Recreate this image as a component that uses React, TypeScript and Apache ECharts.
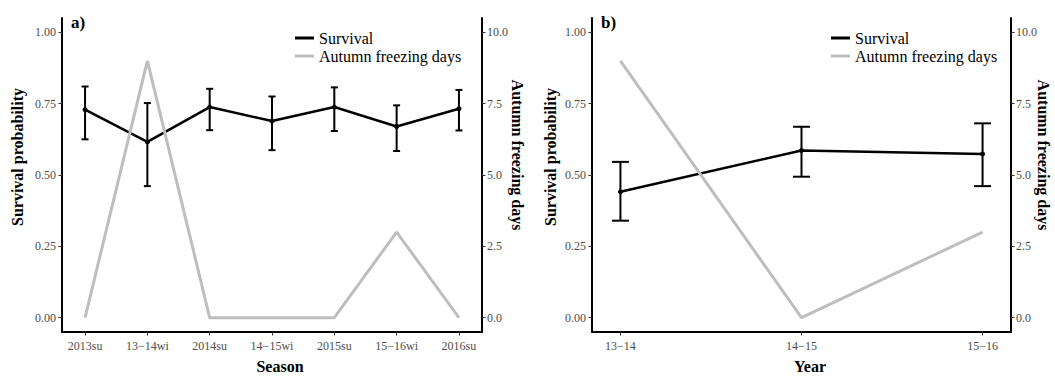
import React, { useEffect, useRef } from "react";
import * as echarts from "echarts";

const seasons = ["2013su", "13−14wi", "2014su", "14−15wi", "2015su", "15−16wi", "2016su"];
const survivalSeason = [0.729, 0.616, 0.738, 0.689, 0.738, 0.67, 0.732];
const seasonLow = [0.625, 0.461, 0.657, 0.587, 0.654, 0.584, 0.656];
const seasonHigh = [0.81, 0.752, 0.802, 0.775, 0.807, 0.744, 0.798];
const freezeSeason = [0, 9, 0, 0, 0, 3, 0];

const years = ["13−14", "14−15", "15−16"];
const survivalYear = [0.441, 0.586, 0.574];
const yearLow = [0.34, 0.494, 0.461];
const yearHigh = [0.546, 0.669, 0.681];
const freezeYear = [9, 0, 3];

const leftTicks = [0, 0.25, 0.5, 0.75, 1];
const rightTicks = [0, 2.5, 5, 7.5, 10];

const FONT = "Liberation Serif";

export default function App() {
  const ref = useRef<HTMLDivElement>(null);
  useEffect(() => {
    if (!ref.current) return;
    const chart = echarts.init(ref.current, undefined, { renderer: "svg" });

    const axisLine = { show: true, onZero: false, lineStyle: { color: "#000", width: 2 } };
    const axisTick = (vals: number[]) => ({
      show: true,
      length: 3.5,
      lineStyle: { color: "#333", width: 1 },
      customValues: vals,
    });
    const labelStyle = { color: "#4d4d4d", fontSize: 12, fontFamily: FONT };

    const xAxisFor = (idx: number, cats: string[], pad: number) => ({
      type: "value",
      gridIndex: idx,
      min: -pad,
      max: cats.length - 1 + pad,
      splitLine: { show: false },
      axisLine,
      axisTick: axisTick(cats.map((_, i) => i)),
      axisLabel: {
        ...labelStyle,
        margin: 8,
        customValues: cats.map((_, i) => i),
        formatter: (v: number) => cats[Math.round(v)] ?? "",
      },
    });

    const yLeft = (idx: number) => ({
      type: "value",
      gridIndex: idx,
      position: "left",
      min: -0.05,
      max: 1.05,
      splitLine: { show: false },
      axisLine,
      axisTick: axisTick(leftTicks),
      axisLabel: {
        ...labelStyle,
        margin: 6,
        customValues: leftTicks,
        formatter: (v: number) => v.toFixed(2),
      },
    });
    const yRight = (idx: number) => ({
      type: "value",
      gridIndex: idx,
      position: "right",
      min: -0.5,
      max: 10.5,
      splitLine: { show: false },
      axisLine,
      axisTick: axisTick(rightTicks),
      axisLabel: {
        ...labelStyle,
        margin: 5,
        customValues: rightTicks,
        formatter: (v: number) => v.toFixed(1),
      },
    });

    const errSeries = (xi: number, yi: number, low: number[], high: number[], half: number) => ({
      type: "custom",
      xAxisIndex: xi,
      yAxisIndex: yi,
      z: 3,
      data: low.map((l, i) => [i, l, high[i]]),
      encode: { x: 0, y: [1, 2] },
      renderItem: (params: any, api: any) => {
        const x = api.value(0);
        const pLo = api.coord([x, api.value(1)]);
        const pHi = api.coord([x, api.value(2)]);
        const st = { stroke: "#000", lineWidth: 2 };
        return {
          type: "group",
          children: [
            { type: "line", shape: { x1: pLo[0], y1: pLo[1], x2: pHi[0], y2: pHi[1] }, style: st },
            { type: "line", shape: { x1: pHi[0] - half, y1: pHi[1], x2: pHi[0] + half, y2: pHi[1] }, style: st },
            { type: "line", shape: { x1: pLo[0] - half, y1: pLo[1], x2: pLo[0] + half, y2: pLo[1] }, style: st },
          ],
        };
      },
    });

    const survLine = (xi: number, yi: number, vals: number[]) => ({
      name: "Survival",
      type: "line",
      xAxisIndex: xi,
      yAxisIndex: yi,
      z: 3,
      data: vals.map((v, i) => [i, v]),
      color: "#000",
      lineStyle: { color: "#000", width: 2.5 },
      symbol: "circle",
      symbolSize: 5,
      itemStyle: { color: "#000" },
    });
    const freezeLine = (xi: number, yi: number, vals: number[]) => ({
      name: "Autumn freezing days",
      type: "line",
      xAxisIndex: xi,
      yAxisIndex: yi,
      z: 4,
      data: vals.map((v, i) => [i, v]),
      color: "#bebebe",
      lineStyle: { color: "#bebebe", width: 3 },
      symbol: "none",
    });

    const legendFor = (left: number) => ({
      orient: "vertical",
      left,
      top: 24,
      icon: "rect",
      itemWidth: 19,
      itemHeight: 3,
      itemGap: 0,
      itemTextGap: 5,
      selectedMode: false,
      data: ["Survival", "Autumn freezing days"],
      textStyle: { color: "#000", fontSize: 16, fontFamily: FONT, lineHeight: 18 },
    });

    const titleText = (text: string, x: number, y: number, rot: number, size = 16) => ({
      type: "text",
      x,
      y,
      rotation: rot,
      style: {
        text,
        fill: "#000",
        font: `bold ${size}px "${FONT}"`,
        align: "center",
        verticalAlign: "middle",
      },
    });

    chart.setOption({
      animation: false,
      grid: [
        { left: 62, right: 573, top: 18, bottom: 44 },
        { left: 592, right: 44, top: 18, bottom: 44 },
      ],
      legend: [legendFor(290), legendFor(826)],
      xAxis: [xAxisFor(0, seasons, 0.37), xAxisFor(1, years, 0.157)],
      yAxis: [yLeft(0), yRight(0), yLeft(1), yRight(1)],
      series: [
        survLine(0, 0, survivalSeason),
        errSeries(0, 0, seasonLow, seasonHigh, 3.5),
        freezeLine(0, 1, freezeSeason),
        survLine(1, 2, survivalYear),
        errSeries(1, 2, yearLow, yearHigh, 8.5),
        freezeLine(1, 3, freezeYear),
      ],
      graphic: [
        { type: "text", x: 71, y: 22, style: { text: "a)", fill: "#000", font: `bold 17px "${FONT}"`, verticalAlign: "middle" } },
        { type: "text", x: 601, y: 22, style: { text: "b)", fill: "#000", font: `bold 17px "${FONT}"`, verticalAlign: "middle" } },
        titleText("Survival probability", 17, 157, Math.PI / 2),
        titleText("Autumn freezing days", 517, 155, -Math.PI / 2),
        titleText("Survival probability", 550, 157, Math.PI / 2),
        titleText("Autumn freezing days", 1043, 155, -Math.PI / 2),
        titleText("Season", 280, 366, 0),
        titleText("Year", 810, 366, 0),
      ],
    });
    return () => chart.dispose();
  }, []);
  return (
    <div
      ref={ref}
      style={{ position: "fixed", left: 0, top: 0, width: 1055, height: 376, background: "#fff" }}
    />
  );
}
